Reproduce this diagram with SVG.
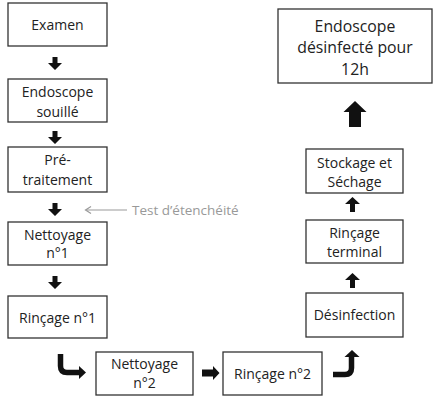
<svg xmlns="http://www.w3.org/2000/svg" width="437" height="400" viewBox="0 0 437 400">
<style>
.box{fill:#fff;stroke:#333;stroke-width:1.3}
.t{font-family:"Open Sans","Liberation Sans",sans-serif;font-size:14px;fill:#222;text-anchor:middle}
.big{font-size:15.8px}
.arr{fill:#111;stroke:none}
.cur{fill:none;stroke:#111;stroke-width:5.5}
.gray{font-family:"Open Sans","Liberation Sans",sans-serif;font-size:13.5px;fill:#999}
</style>
<defs>
<path id="down" d="M-2.5,0 H2.5 V6 H7 L0,13 L-7,6 H-2.5 Z"/>
<path id="up" d="M-2.5,15 H2.5 V7 H7.5 L0,0 L-7.5,7 H-2.5 Z"/>
</defs>
<rect width="437" height="400" fill="#fff"/>
<g id="examen"><rect class="box" x="8" y="3" width="99" height="43"/><text class="t" x="57.5" y="29.5">Examen</text></g>
<g id="souille"><rect class="box" x="8" y="79" width="99" height="43"/><text class="t" x="57.5" y="96.5">Endoscope</text><text class="t" x="57.5" y="116.5">souillé</text></g>
<g id="pretraitement"><rect class="box" x="8" y="147" width="99" height="45"/><text class="t" x="57.5" y="164.5">Pré-</text><text class="t" x="57.5" y="184.5">traitement</text></g>
<g id="nettoyage1"><rect class="box" x="8" y="222" width="99" height="43"/><text class="t" x="57.5" y="239.5">Nettoyage</text><text class="t" x="57.5" y="258">n°1</text></g>
<g id="rincage1"><rect class="box" x="8" y="296" width="99" height="42"/><text class="t" x="57.5" y="322.5">Rinçage n°1</text></g>
<g id="nettoyage2"><rect class="box" x="96" y="352" width="97" height="43"/><text class="t" x="144.5" y="368.5">Nettoyage</text><text class="t" x="144.5" y="387.5">n°2</text></g>
<g id="rincage2"><rect class="box" x="223" y="352" width="99" height="43"/><text class="t" x="272.5" y="378.5">Rinçage n°2</text></g>
<g id="desinfection"><rect class="box" x="306" y="293" width="97" height="44"/><text class="t" x="354.5" y="319.5">Désinfection</text></g>
<g id="rincageterminal"><rect class="box" x="306" y="220" width="97" height="43"/><text class="t" x="354.5" y="237.5">Rinçage</text><text class="t" x="354.5" y="256.5">terminal</text></g>
<g id="stockage"><rect class="box" x="306" y="149" width="97" height="44"/><text class="t" x="354.5" y="167.5">Stockage et</text><text class="t" x="354.5" y="186.5">Séchage</text></g>
<g id="desinfecte"><rect class="box" x="278" y="9" width="154" height="74"/><text class="t big" x="355" y="31.5">Endoscope</text><text class="t big" x="355" y="52.5">désinfecté pour</text><text class="t big" x="355" y="75">12h</text></g>
<g id="connectors">
<use href="#down" class="arr" x="55" y="57"/>
<use href="#down" class="arr" x="55" y="131"/>
<use href="#down" class="arr" x="55" y="203"/>
<use href="#down" class="arr" x="55" y="276"/>
<path class="cur" d="M60.5,354 V366 Q60.5,372.5 67,372.5 H80"/>
<path class="arr" d="M79,366 L86,372.5 L79,379 Z"/>
<path class="arr" d="M202,369.5 H213 V366 L219.5,373 L213,380 V376.5 H202 Z"/>
<path class="cur" d="M333,374.5 H345 Q351.5,374.5 351.5,368 V356"/>
<path class="arr" d="M344.5,357 L352,350 L359.5,357 Z"/>
<use href="#up" class="arr" x="352.5" y="273"/>
<use href="#up" class="arr" x="352.5" y="197"/>
<path class="arr" d="M349,127 H361 V112 H366.5 L355,101 L343.5,112 H349 Z"/>
<line x1="127" y1="210" x2="86" y2="210" stroke="#999" stroke-width="1.2"/>
<path d="M91,206.5 L85.5,210 L91,213.5" fill="none" stroke="#999" stroke-width="1.2"/>
</g>
<text class="gray" x="132" y="214.5">Test d’étenchéité</text>
</svg>
